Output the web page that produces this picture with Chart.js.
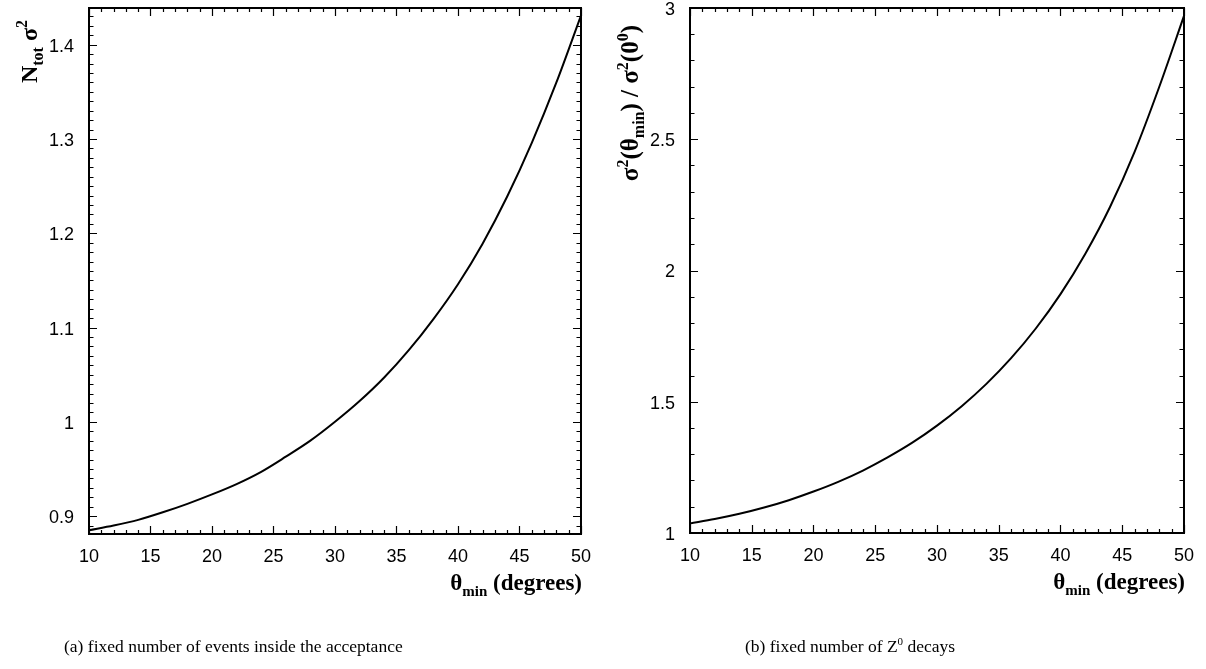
<!DOCTYPE html>
<html>
<head>
<meta charset="utf-8">
<script src="https://cdn.jsdelivr.net/npm/chart.js@4.4.0/dist/chart.umd.min.js"></script>
<style>
  body { margin: 0; background: #fff; width: 1206px; height: 669px; overflow: hidden; position: relative; }
  .wrap { position: absolute; top: -20px; width: 603px; height: 689px; }
  #wrapA { left: 0; }
  #wrapB { left: 603px; }
  .caption { position: absolute; top: 636px; font-family: "Liberation Serif", "Times New Roman", serif;
             font-size: 17.5px; color: #000; white-space: nowrap; }
  .caption sup { font-size: 11px; vertical-align: 7px; line-height: 0; }
</style>
</head>
<body>
<div class="wrap" id="wrapA"><canvas id="chartA" width="603" height="689"></canvas></div>
<div class="wrap" id="wrapB"><canvas id="chartB" width="603" height="689"></canvas></div>
<div class="caption" style="left:64px">(a) fixed number of events inside the acceptance</div>
<div class="caption" style="left:745px">(b) fixed number of Z<sup>0</sup> decays</div>

<script>
// theta_min values (degrees) at which the curves were read
var thetaMin = [10, 12, 14, 16, 18, 20, 22, 24, 26, 28, 30, 32, 34, 36, 38, 40, 42, 44, 46, 48, 50];

// (a) N_tot * sigma^2
var ntotSigma2 = [0.885, 0.890, 0.896, 0.904, 0.913, 0.923, 0.934, 0.947, 0.963, 0.980, 1.000,
                  1.022, 1.047, 1.076, 1.109, 1.146, 1.189, 1.239, 1.296, 1.360, 1.431];

// (b) sigma^2(theta_min) / sigma^2(0)
var sigmaRatio = [1.036, 1.053, 1.073, 1.097, 1.125, 1.158, 1.195, 1.238, 1.288, 1.344, 1.409,
                  1.483, 1.568, 1.666, 1.779, 1.910, 2.063, 2.241, 2.452, 2.700, 2.970];

// tick labels
var xTicks = [10, 15, 20, 25, 30, 35, 40, 45, 50];
var yTicksA = [0.9, 1, 1.1, 1.2, 1.3, 1.4];
var yTicksB = [1, 1.5, 2, 2.5, 3];

var tickFont = { family: '"Liberation Sans", Arial, sans-serif', size: 18 };
var titleFamily = '"Liberation Serif", "Times New Roman", serif';

// draw a run of text pieces (sub/superscripts) on one baseline
function drawRich(ctx, parts, x, y, alignRight) {
    var widths = parts.map(function (p) {
        ctx.font = 'bold ' + p.s + 'px ' + titleFamily;
        return ctx.measureText(p.t).width;
    });
    var total = widths.reduce(function (a, b) { return a + b; }, 0);
    var cx = alignRight ? x - total : x;
    ctx.textBaseline = 'alphabetic';
    ctx.textAlign = 'left';
    parts.forEach(function (p, i) {
        ctx.font = 'bold ' + p.s + 'px ' + titleFamily;
        ctx.fillText(p.t, cx, y + (p.dy || 0));
        cx += widths[i];
    });
}

// frame on all four sides with inward ticks, plus the axis titles
var framePlugin = {
    id: 'frame',
    afterDraw: function (chart, args, opts) {
        var ctx = chart.ctx, a = chart.chartArea;
        var x = chart.scales.x, y = chart.scales.y;
        ctx.save();
        ctx.strokeStyle = '#000';
        ctx.fillStyle = '#000';

        ctx.lineWidth = 1.2;
        ctx.beginPath();
        var i, v, px, len;
        for (i = Math.ceil(x.min / opts.xMinor - 1e-6); i <= Math.floor(x.max / opts.xMinor + 1e-6); i++) {
            v = i * opts.xMinor;
            len = opts.xMajor.some(function (t) { return Math.abs(t - v) < 1e-6; }) ? 8 : 4;
            px = Math.round(x.getPixelForValue(v)) + 0.5;
            ctx.moveTo(px, a.bottom); ctx.lineTo(px, a.bottom - len);
            ctx.moveTo(px, a.top); ctx.lineTo(px, a.top + len);
        }
        for (i = Math.ceil(y.min / opts.yMinor - 1e-6); i <= Math.floor(y.max / opts.yMinor + 1e-6); i++) {
            v = i * opts.yMinor;
            len = opts.yMajor.some(function (t) { return Math.abs(t - v) < 1e-6; }) ? 8 : 4.5;
            px = Math.round(y.getPixelForValue(v)) + 0.5;
            ctx.moveTo(a.left, px); ctx.lineTo(a.left + len, px);
            ctx.moveTo(a.right, px); ctx.lineTo(a.right - len, px);
        }
        ctx.stroke();

        ctx.lineWidth = 2;
        ctx.strokeRect(a.left, a.top, a.right - a.left, a.bottom - a.top);

        // x title, right aligned at the frame
        drawRich(ctx, opts.xTitle, a.right + 1, a.bottom + 56, true);

        // y title, rotated, ending near the top
        ctx.translate(opts.yTitlePos[0], opts.yTitlePos[1]);
        ctx.rotate(-Math.PI / 2);
        drawRich(ctx, opts.yTitle, 0, 0, true);
        ctx.restore();
    }
};

function makeChart(id, values, yMin, yMax, yTicks, yMinor, pad, yWidth, xTitle, yTitle, yTitlePos) {
    var ctx = document.getElementById(id).getContext('2d');
    var fmt = function (v) { return String(parseFloat(Number(v).toFixed(2))); };

    return new Chart(ctx, {
        type: 'line',
        data: {
            datasets: [{
                data: thetaMin.map(function (t, i) { return { x: t, y: values[i] }; }),
                borderColor: '#000',
                borderWidth: 2,
                pointRadius: 0,
                fill: false,
                cubicInterpolationMode: 'monotone'
            }]
        },
        options: {
            responsive: false,
            animation: false,
            layout: { padding: pad },
            plugins: {
                legend: { display: false },
                tooltip: { enabled: false },
                frame: {
                    xMajor: xTicks, xMinor: 1,
                    yMajor: yTicks, yMinor: yMinor,
                    xTitle: xTitle, yTitle: yTitle, yTitlePos: yTitlePos
                }
            },
            scales: {
                x: {
                    type: 'linear', min: 10, max: 50,
                    afterBuildTicks: function (s) { s.ticks = xTicks.map(function (v) { return { value: v }; }); },
                    afterFit: function (s) { s.height = 40; },
                    grid: { display: false, drawTicks: false },
                    border: { display: false },
                    ticks: { padding: 12, color: '#000', font: tickFont, maxRotation: 0, autoSkip: false, callback: fmt }
                },
                y: {
                    type: 'linear', min: yMin, max: yMax,
                    afterBuildTicks: function (s) { s.ticks = yTicks.map(function (v) { return { value: v }; }); },
                    afterFit: function (s) { s.width = yWidth; },
                    grid: { display: false, drawTicks: false },
                    border: { display: false },
                    ticks: { padding: 15, labelOffset: 2, color: '#000', font: tickFont, autoSkip: false, callback: fmt }
                }
            }
        },
        plugins: [framePlugin]
    });
}

var xTitleParts = [{ t: '\u03b8', s: 23 }, { t: 'min', s: 15, dy: 6 }, { t: ' (degrees)', s: 23 }];

makeChart('chartA', ntotSigma2, 0.881, 1.439, yTicksA, 0.01,
    { left: 0, top: 28, right: 18, bottom: 95 }, 89, xTitleParts,
    [{ t: 'N', s: 24 }, { t: 'tot', s: 16, dy: 6 }, { t: ' \u03c3', s: 24 }, { t: '2', s: 16, dy: -10 }],
    [37, 40]);

makeChart('chartB', sigmaRatio, 1, 3, yTicksB, 0.1,
    { left: 0, top: 28, right: 18, bottom: 96 }, 87, xTitleParts,
    [{ t: '\u03c3', s: 25 }, { t: '2', s: 16, dy: -10 }, { t: '(\u03b8', s: 25 }, { t: 'min', s: 16, dy: 6 },
     { t: ') / \u03c3', s: 25 }, { t: '2', s: 16, dy: -10 }, { t: '(0', s: 25 }, { t: '0', s: 16, dy: -10 }, { t: ')', s: 25 }],
    [35, 45]);
</script>
</body>
</html>
